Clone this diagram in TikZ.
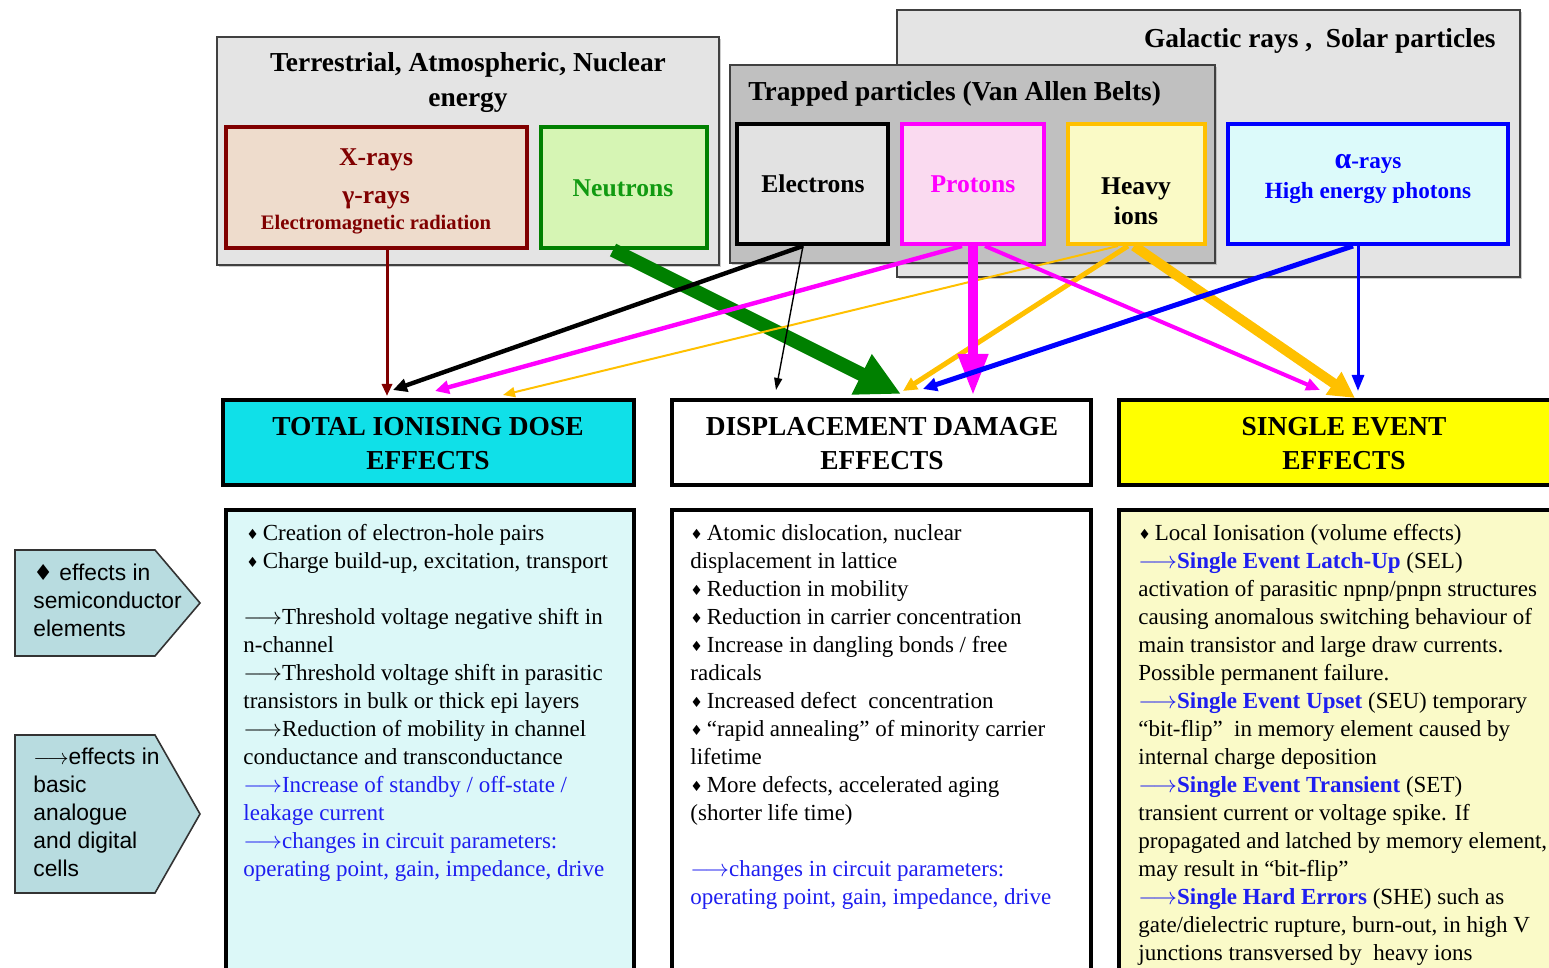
\documentclass[tikz,border=0pt]{standalone}
\usepackage{fontspec}
\setmainfont{Liberation Serif}
\setsansfont{Liberation Sans}
\newfontfamily\symfnt{DejaVu Sans}
\usetikzlibrary{arrows.meta,fit,calc,shadows}

\definecolor{grpA}{HTML}{E4E4E4}
\definecolor{grpB}{HTML}{C0C0C0}
\definecolor{xred}{HTML}{800000}
\definecolor{xfill}{HTML}{EEDCCC}
\definecolor{ngreen}{HTML}{008000}
\definecolor{ntext}{HTML}{119A11}
\definecolor{nfill}{HTML}{D6F5B4}
\definecolor{efill}{HTML}{E2E2E2}
\definecolor{pmag}{HTML}{FF00FF}
\definecolor{pfill}{HTML}{FADAF0}
\definecolor{hgold}{HTML}{FFC000}
\definecolor{hfill}{HTML}{FAFAC6}
\definecolor{ablue}{HTML}{0000FF}
\definecolor{afill}{HTML}{DCFAFA}
\definecolor{tidfill}{HTML}{10E0E8}
\definecolor{seefill}{HTML}{FFFF00}
\definecolor{tidbody}{HTML}{DCF8F8}
\definecolor{seebody}{HTML}{FAFAC8}
\definecolor{tagfill}{HTML}{B8DCE0}
\definecolor{tblue}{HTML}{1E1EF0}

\newcommand\dia{{\symfnt\fontsize{7}{7}\selectfont\raisebox{0.5pt}{♦}}\,}
\newcommand\arw{$\longrightarrow$}
\newcommand\bl[1]{\textcolor{tblue}{#1}}

\tikzset{
  group/.style={draw=black!75, line width=0.8pt, inner sep=0pt, fill=#1,
    drop shadow={shadow xshift=1pt, shadow yshift=-1pt, fill=black!40}},
  srcbox/.style 2 args={draw=#1, fill=#2, line width=2pt, inner sep=0pt},
  ttl/.style={inner sep=0pt, align=center, font=\bfseries\fontsize{13.7}{17.5}\selectfont},
  lbl/.style={inner sep=0pt, align=center, font=\bfseries\fontsize{12.8}{15}\selectfont},
  hdr/.style={draw=black, fill=#1, line width=2pt, inner sep=0pt},
  hdrtxt/.style={inner sep=0pt, align=center, font=\bfseries\fontsize{13.7}{17}\selectfont},
  bodybox/.style={draw=black, fill=#1, line width=2pt, inner sep=0pt},
  txt/.style={anchor=north west, inner sep=0pt, align=left, font=\fontsize{11.5}{14}\selectfont},
  tag/.style={draw=black!80, fill=tagfill, line width=0.8pt},
  tagtxt/.style={anchor=north west, inner sep=0pt, align=left, font=\sffamily\fontsize{11.4}{14}\selectfont},
  flow/.style n args={4}{draw=#1, line width=#2, -{Triangle[length=#3,width=#4]}}
}

\begin{document}
\begin{tikzpicture}[x=0.5pt,y=-0.5pt]
\useasboundingbox (0,0) rectangle (1549,968);

% ---- source groups ----
\node[group=grpA, fit={(897,10)(1520,277)}] (gal) {};
\node[group=grpB, fit={(730,65)(1215,263)}] (trap) {};
\node[group=grpA, fit={(217,37)(719,265)}] (terr) {};

\node[ttl] (terrT) at (468,83) {Terrestrial, Atmospheric, Nuclear\\energy};
\node[ttl, anchor=east] (galT) at (1496,41) {Galactic rays ,\ \ Solar particles};
\node[ttl, anchor=west] (trapT) at (748,94) {Trapped particles (Van Allen Belts)};

% ---- radiation sources ----
\node[srcbox={xred}{xfill}, fit={(226,127)(527,248)}] (xr) {};
\node[srcbox={ngreen}{nfill}, fit={(541,127)(707,248)}] (neu) {};
\node[srcbox={black}{efill}, fit={(737,124)(888,244)}] (elec) {};
\node[srcbox={pmag}{pfill}, fit={(902,124)(1044,244)}] (prot) {};
\node[srcbox={hgold}{hfill}, fit={(1068,124)(1205,244)}] (heavy) {};
\node[srcbox={ablue}{afill}, fit={(1228,124)(1508,244)}] (alpha) {};

\node[lbl, text=xred] (xrT) at (376,191) {X-rays\\[4pt]γ-rays\\[-2pt]{\fontsize{10.3}{12}\selectfont Electromagnetic radiation}};
\node[lbl, text=ntext] (neuT) at (623,188) {Neutrons};
\node[lbl] (elecT) at (813,184) {Electrons};
\node[lbl, text=pmag] (protT) at (973,184) {Protons};
\node[lbl] (heavyT) at (1136,201) {Heavy\\ions};
\node[lbl, text=ablue, font=\bfseries\fontsize{11.6}{15}\selectfont] (alphaT) at (1368,179) {{\fontsize{15}{15}\selectfont α}-rays\\High energy photons};

% ---- effect headers ----
\node[hdr=tidfill, fit={(223,400)(634,485)}] (tid) {};
\node[hdr=white, fit={(672,400)(1091,485)}] (dd) {};
\node[hdr=seefill, fit={(1119,400)(1569,485)}] (see) {};
\node[hdrtxt] (tidT) at (428,444) {TOTAL IONISING DOSE\\EFFECTS};
\node[hdrtxt] (ddT) at (882,444) {DISPLACEMENT DAMAGE\\EFFECTS};
\node[hdrtxt] (seeT) at (1344,444) {SINGLE EVENT\\EFFECTS};

% ---- connectors ----
\draw[flow={ngreen}{7pt}{22pt}{21pt}] ($(neu.south west)+(74,0)$) -- ($(dd.north west)+(231,-4)$);
\draw[flow={hgold}{5pt}{13pt}{13pt}] ($(heavy.south west)+(68,0)$) -- ($(see.north west)+(238,0)$);
\draw[flow={xred}{1.5pt}{6pt}{5pt}] ($(xr.south west)+(163,0)$) -- ($(tid.north west)+(166,-2)$);
\draw[flow={hgold}{1pt}{6pt}{5pt}] ($(heavy.south west)+(52,0)$) -- ($(tid.north west)+(282,-3)$);
\draw[flow={hgold}{2.5pt}{7pt}{6.5pt}] ($(heavy.south west)+(62,0)$) -- ($(dd.north west)+(233,-7)$);
\draw[flow={pmag}{2.2pt}{7pt}{6.5pt}] ($(prot.south west)+(62,0)$) -- ($(tid.north west)+(214,-7)$);
\draw[flow={pmag}{2pt}{7pt}{6pt}] ($(prot.south west)+(85,0)$) -- ($(see.north west)+(203,-8)$);
\draw[flow={pmag}{5pt}{21pt}{14pt}] ($(prot.south west)+(73,0)$) -- ($(dd.north west)+(303,-2)$);
\draw[flow={black}{2.2pt}{7pt}{6.5pt}] ($(elec.south west)+(68,0)$) -- ($(tid.north west)+(172,-8)$);
\draw[flow={black}{0.7pt}{6pt}{4pt}] ($(elec.south west)+(68,0)$) -- ($(dd.north west)+(106,-8)$);
\draw[flow={ablue}{2.5pt}{7pt}{6.5pt}] ($(alpha.south west)+(127,0)$) -- ($(dd.north west)+(253,-9)$);
\draw[flow={ablue}{1.5pt}{8pt}{6pt}] ($(alpha.south west)+(132,0)$) -- ($(see.north west)+(241,-7)$);

% ---- effect descriptions ----
\node[bodybox=tidbody, fit={(226,510)(634,980)}] (tidB) {};
\node[bodybox=white, fit={(672,510)(1091,980)}] (ddB) {};
\node[bodybox=seebody, fit={(1119,510)(1569,980)}] (seeB) {};

\node[txt] (tidX) at (243,524) {%
\hspace*{1.5pt}\dia Creation of electron-hole pairs\\
\hspace*{1.5pt}\dia Charge build-up, excitation, transport\\
\mbox{}\\
\arw Threshold voltage negative shift in\\
n-channel\\
\arw Threshold voltage shift in parasitic\\
transistors in bulk or thick epi layers\\
\arw Reduction of mobility in channel\\
conductance and transconductance\\
\bl{\arw Increase of standby / off-state /}\\
\bl{leakage current}\\
\bl{\arw changes in circuit parameters:}\\
\bl{operating point, gain, impedance, drive}};

\node[txt] (ddX) at (690,524) {%
\dia Atomic dislocation, nuclear\\
displacement in lattice\\
\dia Reduction in mobility\\
\dia Reduction in carrier concentration\\
\dia Increase in dangling bonds / free\\
radicals\\
\dia Increased defect\ \ concentration\\
\dia “rapid annealing” of minority carrier\\
lifetime\\
\dia More defects, accelerated aging\\
(shorter life time)\\
\mbox{}\\
\bl{\arw changes in circuit parameters:}\\
\bl{operating point, gain, impedance, drive}};

\node[txt] (seeX) at (1138,524) {%
\dia Local Ionisation (volume effects)\\
\bl{\arw\textbf{Single Event Latch-Up}} (SEL)\\
activation of parasitic npnp/pnpn structures\\
causing anomalous switching behaviour of\\
main transistor and large draw currents.\\
Possible permanent failure.\\
\bl{\arw\textbf{Single Event Upset}} (SEU) temporary\\
“bit-flip”\ \ in memory element caused by\\
internal charge deposition\\
\bl{\arw\textbf{Single Event Transient}} (SET)\\
transient current or voltage spike. If\\
propagated and latched by memory element,\\
may result in “bit-flip”\\
\bl{\arw\textbf{Single Hard Errors}} (SHE) such as\\
gate/dielectric rupture, burn-out, in high V\\
junctions transversed by\ \ heavy ions};

% ---- legend tags ----
\draw[tag] (15,550) -- (155,550) -- (200,603) -- (155,656) -- (15,656) -- cycle;
\node[tagtxt] (tagA) at (33,564) {{\symfnt\fontsize{11}{11}\selectfont ♦} effects in\\semiconductor\\elements};
\draw[tag] (15,735) -- (155,735) -- (200,814) -- (155,893) -- (15,893) -- cycle;
\node[tagtxt] (tagB) at (33,748) {\arw effects in\\basic\\analogue\\and digital\\cells};

\end{tikzpicture}
\end{document}
